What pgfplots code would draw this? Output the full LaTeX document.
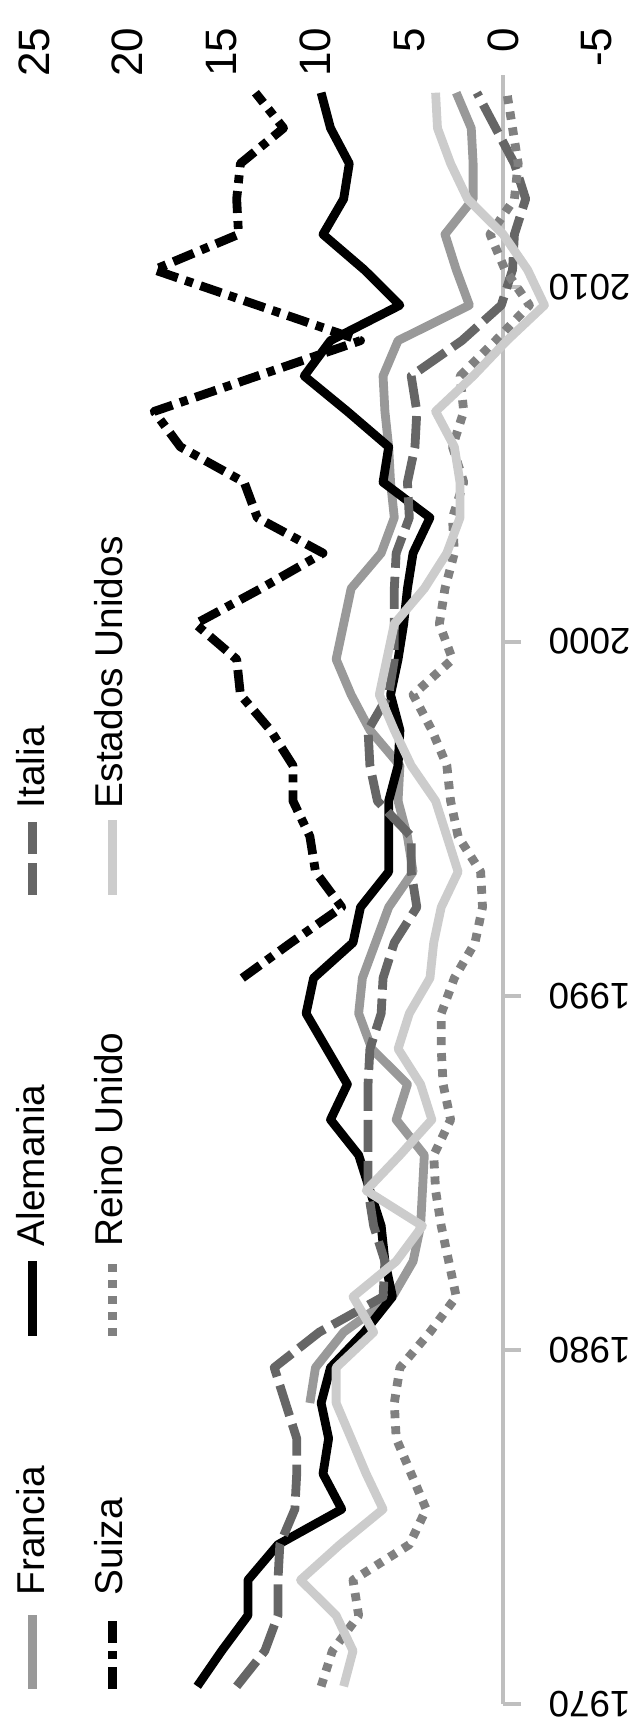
\documentclass[border=0pt]{standalone}
\usepackage{fontspec}
\setmainfont{Liberation Sans}
\usepackage{pgfplots}
\usepackage{pgfplotstable}
\pgfplotsset{compat=1.18}

\definecolor{fra}{HTML}{999999}
\definecolor{ita}{HTML}{666666}
\definecolor{gbr}{HTML}{808080}
\definecolor{usa}{HTML}{CCCCCC}
\definecolor{axisgray}{HTML}{BFBFBF}

% year, Francia, Alemania, Italia, Suiza, Reino Unido, Estados Unidos
\pgfplotstableread{
year fra ale ita sui gbr usa
1970 nan 16.3 14.2 nan 9.7 8.5
1971 nan 15.0 12.7 nan 9.1 8.0
1972 nan 13.6 12.0 nan 7.7 8.9
1973 nan 13.6 12.0 nan 8.0 10.8
1974 nan 12.0 11.9 nan 5.0 8.7
1975 nan 8.6 11.1 nan 4.1 6.4
1976 nan 9.6 11.0 nan 4.9 7.3
1977 nan 9.3 11.0 nan 5.7 8.1
1978 10.3 9.7 11.6 nan 5.8 8.9
1979 10.0 9.2 12.2 nan 5.5 8.9
1980 8.5 7.4 9.8 nan 3.9 6.9
1981 5.9 5.9 6.4 nan 2.5 8.0
1982 4.8 6.3 6.3 nan 2.9 5.7
1983 4.4 6.5 6.9 nan 3.3 4.3
1984 4.3 7.1 7.2 nan 3.6 7.3
1985 4.2 7.7 7.2 nan 3.7 5.5
1986 5.7 9.2 7.2 nan 2.8 3.8
1987 5.1 8.3 7.2 nan 3.2 4.4
1988 7.0 9.4 7.1 nan 3.3 5.6
1989 7.7 10.5 6.5 nan 3.3 5.0
1990 7.5 10.1 6.4 13.9 2.6 3.9
1991 6.8 8.0 5.8 11.3 1.5 3.7
1992 6.1 7.6 4.6 8.6 1.1 3.3
1993 4.8 6.1 4.9 10.0 1.2 2.4
1994 5.1 6.1 4.9 10.3 2.4 3.0
1995 5.6 6.1 6.7 11.2 2.8 3.6
1996 5.5 5.6 7.1 11.2 3.0 4.9
1997 7.1 5.5 7.2 12.4 3.8 5.8
1998 8.1 6.0 6.1 14.0 4.8 6.6
1999 8.9 5.6 5.8 14.2 2.7 6.2
2000 8.5 5.3 5.8 16.4 3.4 5.8
2001 8.1 5.1 5.8 12.9 3.1 4.2
2002 6.5 4.8 5.7 9.6 2.6 3.0
2003 5.8 3.9 5.0 13.1 2.7 2.3
2004 6.0 6.4 5.1 13.8 2.1 2.3
2005 6.1 6.1 4.7 17.2 2.7 2.6
2006 6.3 8.3 4.6 18.6 2.1 3.6
2007 6.4 10.6 4.9 13.1 2.3 1.6
2008 5.6 9.2 2.2 7.6 0.4 -0.2
2009 1.8 5.5 0.1 13.1 -1.4 -2.2
2010 2.5 7.4 -0.5 18.6 -0.1 -1.3
2011 3.1 9.6 -0.6 14.1 0.7 0.0
2012 1.6 8.5 -1.2 14.2 -0.6 1.9
2013 1.6 8.2 -0.6 14.0 -0.8 2.8
2014 1.7 9.2 0.4 11.7 -0.5 3.5
2015 2.5 9.7 1.4 13.2 -0.2 3.6
}\datatable

\tikzset{
  fraline/.style={fra, line width=2.2pt},
  aleline/.style={black, line width=2.2pt},
  italine/.style={ita, line width=2.2pt, dash pattern=on 8pt off 2.25pt},
  suiline/.style={black, line width=2.2pt, dash pattern=on 5.5pt off 2pt on 2pt off 2pt},
  gbrline/.style={gbr, line width=2.2pt, dash pattern=on 2pt off 2pt},
  usaline/.style={usa, line width=2.2pt},
  legtext/.style={rotate=90, anchor=base west, inner sep=0pt, font=\fontsize{9.7}{11}\selectfont},
}

\begin{document}
\begin{tikzpicture}
\begin{axis}[
    scale only axis,
    width=140.75pt, height=407.25pt,
    xmin=-5, xmax=25, x dir=reverse,
    ymin=1969.5, ymax=2015.5,
    axis x line*=top,
    axis y line=middle,
    hide obscured x ticks=false,
    x axis line style={draw=none},
    y axis line style={draw=axisgray, line width=1pt, -},
    xtick={-5,0,5,10,15,20,25},
    xticklabels={-5,0,5,10,15,20,25},
    xtick style={draw=none},
    xticklabel style={yshift=7.5pt, rotate=90, anchor=east, inner sep=0pt,
        font=\fontsize{11}{13}\selectfont},
    ytick={1969.5,1979.5,1989.5,1999.5,2009.5},
    yticklabels={1970,1980,1990,2000,2010},
    ytick style={draw=axisgray, line width=1pt},
    major tick length=4.5pt,
    tick align=outside,
    yticklabel style={xshift=26.1pt, rotate=180, anchor=center, inner sep=0pt,
        font=\fontsize{9.2}{11}\selectfont},
    every axis plot/.append style={line join=round},
]
\addplot[fraline] table[x=fra, y=year] {\datatable};
\addplot[aleline] table[x=ale, y=year] {\datatable};
\addplot[italine] table[x=ita, y=year] {\datatable};
\addplot[suiline] table[x=sui, y=year] {\datatable};
\addplot[gbrline] table[x=gbr, y=year] {\datatable};
\addplot[usaline] table[x=usa, y=year] {\datatable};
\end{axis}

% legend, turned like the rest of the chart
\draw[fraline] (-0.375pt,3.75pt) -- (-0.375pt,22.25pt);
\node[legtext] at (2.6pt,27pt) {Francia};
\draw[aleline] (-0.375pt,92pt) -- (-0.375pt,110.75pt);
\node[legtext] at (2.6pt,114.25pt) {Alemania};
\draw[italine] (-0.375pt,202.25pt) -- (-0.375pt,221pt);
\node[legtext] at (2.6pt,223.75pt) {Italia};
\draw[suiline] (19.6pt,3.75pt) -- (19.6pt,22.25pt);
\node[legtext] at (22.15pt,27pt) {Suiza};
\draw[gbrline] (19.6pt,92pt) -- (19.6pt,110.75pt);
\node[legtext] at (22.15pt,114.25pt) {Reino Unido};
\draw[usaline] (19.6pt,202.25pt) -- (19.6pt,221pt);
\node[legtext] at (22.15pt,223.75pt) {Estados Unidos};

\pgfresetboundingbox
\useasboundingbox (-8.5pt,-7.25pt) rectangle (150.75pt,426pt);
\end{tikzpicture}
\end{document}
